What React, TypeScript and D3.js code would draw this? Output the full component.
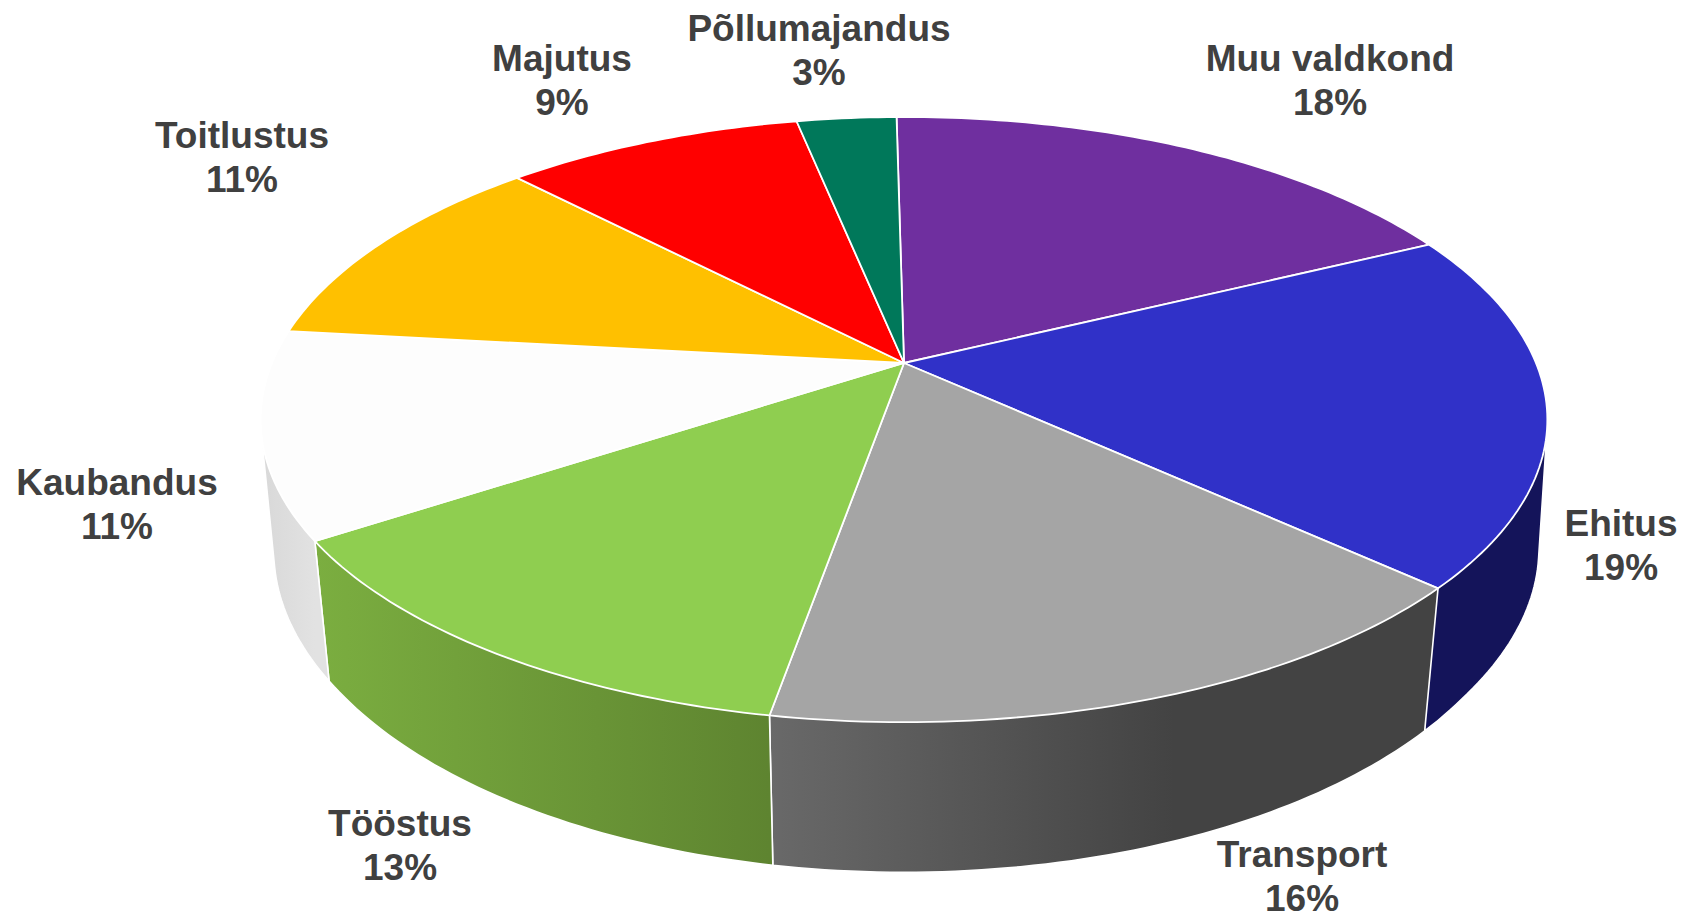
import React from "react";
import * as d3 from "d3";

// Data, clockwise from the top of the pie
const categories = ["Muu valdkond", "Ehitus", "Transport", "Tööstus", "Kaubandus", "Toitlustus", "Majutus", "Põllumajandus"];
const shares = [18, 19, 16, 13, 11, 11, 9, 3];

// Styling
const topColors = ["#6f2f9f", "#3031c8", "#a5a5a5", "#8fce50", "#fdfdfd", "#ffc000", "#ff0000", "#00785a"];
const wallColorsLeft = ["#4a1f6b", "#14145a", "#696969", "#7bae40", "#d8d8d8", "#bf9000", "#bf0000", "#005a43"];
const wallColorsRight = ["#4a1f6b", "#14145a", "#434343", "#5e8430", "#e2e2e2", "#bf9000", "#bf0000", "#005a43"];
const labelCenters = [1330, 1621, 1302, 400, 117, 242, 562, 819];
const labelBaselines = [71, 536, 867, 836, 495, 148, 71, 41];

const W = 1687;
const H = 915;
const CX = 904;
const APEX_Y = 363;
const RX = 632; // horizontal radius at the apex row
const RY = 292; // vertical scale of the projected disc
const PERSPECTIVE = 0.187;
const BOTTOM_APEX_Y = 493;
const BOTTOM_FY = 1.056;
const START = (-0.8 * Math.PI) / 180;
const LINE_HEIGHT = 43.5;

type P = [number, number];

const projectTop = (a: number): P => {
  const u = Math.sin(a);
  const v = -Math.cos(a);
  const d = 1 - PERSPECTIVE * v;
  return [CX + (RX * u) / d, APEX_Y + (RY * v) / d];
};
const projectBottom = (a: number): P => {
  const v = -Math.cos(a);
  const [x, y] = projectTop(a);
  const side = x < CX ? 0.98 : 0.988;
  const vt = Math.min(1, (v / 0.6) ** 2);
  const fx = side + (0.975 - side) * vt;
  return [CX + (x - CX) * fx, BOTTOM_APEX_Y + (y - APEX_Y) * BOTTOM_FY];
};

const sampleAngles = (a0: number, a1: number): number[] => {
  const n = Math.max(8, Math.ceil(((a1 - a0) * 180) / Math.PI));
  return d3.range(n + 1).map((i) => a0 + ((a1 - a0) * i) / n);
};

const lineGen = d3.line<P>().x((d) => d[0]).y((d) => d[1]).curve(d3.curveLinear);

export default function App() {
  const arcs = d3
    .pie<number>()
    .sort(null)
    .startAngle(START)
    .endAngle(START + 2 * Math.PI)(shares);

  return (
    <svg
      width={W}
      height={H}
      viewBox={`0 0 ${W} ${H}`}
      style={{ position: "absolute", left: 0, top: 0, display: "block", background: "#ffffff" }}
    >
      <defs>
        {arcs.map((arc, i) => {
          const xs = sampleAngles(arc.startAngle, arc.endAngle).map((a) => projectTop(a)[0]);
          return (
            <linearGradient
              key={i}
              id={`wall-${i}`}
              gradientUnits="userSpaceOnUse"
              x1={d3.min(xs)}
              x2={i === 2 ? (d3.min(xs)! + d3.max(xs)!) / 2 + 70 : d3.max(xs)}
              y1={0}
              y2={0}
            >
              <stop offset="0%" stopColor={wallColorsLeft[i]} />
              <stop offset="100%" stopColor={wallColorsRight[i]} />
            </linearGradient>
          );
        })}
      </defs>

      {/* side walls: hull of the top and bottom rim of each slice */}
      <g>
        {arcs.map((arc, i) => {
          const angles = sampleAngles(arc.startAngle, arc.endAngle);
          const hull = d3.polygonHull([...angles.map(projectTop), ...angles.map(projectBottom)]) as P[];
          return (
            <path
              key={i}
              d={lineGen(hull)! + "Z"}
              fill={`url(#wall-${i})`}
              stroke="#ffffff"
              strokeWidth={1.6}
              strokeLinejoin="round"
            />
          );
        })}
      </g>

      {/* top face */}
      <g>
        {arcs.map((arc, i) => {
          const pts = sampleAngles(arc.startAngle, arc.endAngle).map(projectTop);
          return (
            <path
              key={i}
              d={lineGen([[CX, APEX_Y], ...pts])! + "Z"}
              fill={topColors[i]}
              stroke="#ffffff"
              strokeWidth={1.8}
              strokeLinejoin="round"
            />
          );
        })}
      </g>

      {/* labels */}
      <g fontFamily="'Liberation Sans', Arial, sans-serif" fontWeight={700} fontSize={37} fill="#404040" textAnchor="middle">
        {categories.map((name, i) => (
          <text key={name}>
            <tspan x={labelCenters[i]} y={labelBaselines[i]}>
              {name}
            </tspan>
            <tspan x={labelCenters[i]} y={labelBaselines[i] + LINE_HEIGHT}>
              {shares[i]}%
            </tspan>
          </text>
        ))}
      </g>
    </svg>
  );
}
